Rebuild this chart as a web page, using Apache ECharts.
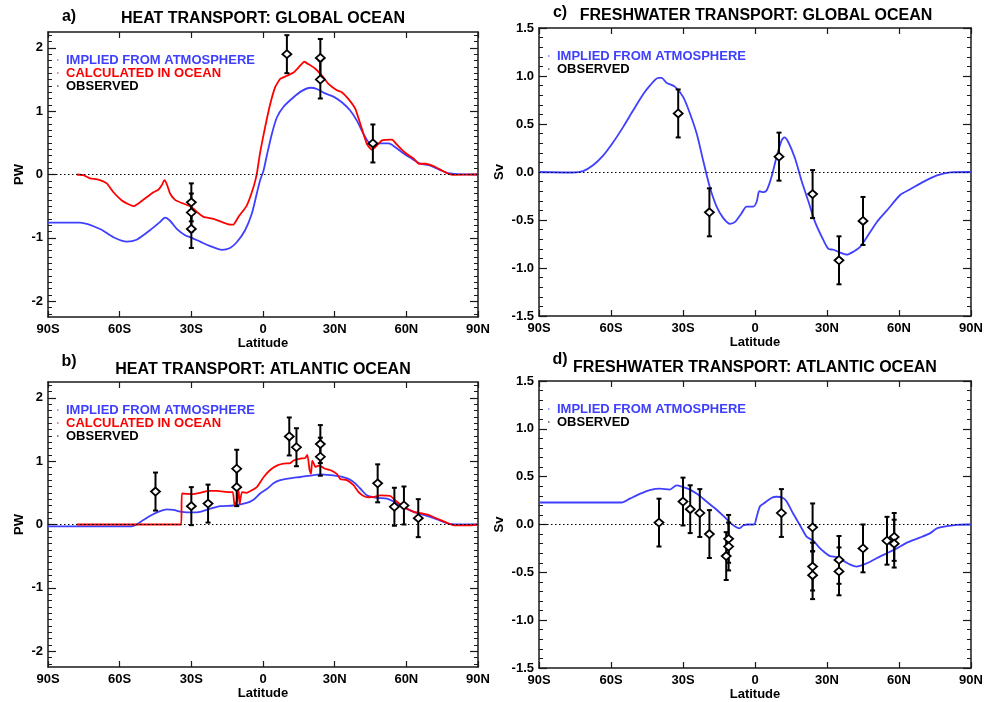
<!DOCTYPE html>
<html><head><meta charset="utf-8">
<script src="https://cdn.jsdelivr.net/npm/echarts@6/dist/echarts.min.js"></script>
<style>html,body{margin:0;padding:0;background:#fff}#c{width:984px;height:702px}</style>
</head><body><div id="c"></div>
<script>
// ---------- tick labels ----------
const latTicks = [-90, -60, -30, 0, 30, 60, 90];
const latLabels = ['90S', '60S', '30S', '0', '30N', '60N', '90N'];
const heatTicks = [-2, -1, 0, 1, 2];
const fwTicks = [-1.5, -1.0, -0.5, 0.0, 0.5, 1.0, 1.5];

// ---------- a) heat transport global ----------
const aBlueLat = [-90,-76.6,-68.2,-62.6,-57,-52.9,-47.3,-43.1,-41,-38.9,-36.1,-32.6,-29.8,-26.3,-22.1,-17.2,-13.8,-11,-7.5,-4.7,-2.6,-1.2,0.2,1.6,3.7,5.8,8.6,12.8,16.3,19.8,22.6,26,29.5,33,36.5,39.3,42.1,44.2,46.3,49.1,52.6,55.4,58.9,63.1,65.9,70,74.2,77.7,81.3,90];
const aBlueVal = [-0.76,-0.76,-0.86,-0.99,-1.06,-1.03,-0.88,-0.75,-0.68,-0.73,-0.86,-0.96,-1.00,-1.06,-1.13,-1.19,-1.16,-1.07,-0.88,-0.62,-0.30,-0.09,0.06,0.30,0.64,0.90,1.07,1.22,1.32,1.37,1.35,1.28,1.23,1.14,1.01,0.85,0.64,0.51,0.48,0.49,0.49,0.43,0.33,0.23,0.17,0.14,0.07,0.02,0.005,0];
const aRedLat = [-78,-75.2,-72.4,-68.9,-65.4,-62.6,-59.1,-56.3,-54.2,-51.5,-48.7,-45.9,-43.8,-42.4,-41.3,-40.3,-38.9,-36.8,-34.0,-31.2,-29.1,-27.7,-24.9,-20.7,-17.2,-13.8,-12.4,-10.3,-6.8,-4.0,-2.6,-1.2,0.9,3.0,5.1,7.2,10,12.8,14.9,17.3,19.1,21.9,24.7,27.4,30.9,33.0,35.8,38.6,41.4,43.5,45.6,47.7,49.8,54.0,56.1,59.6,63.1,65.2,68,71.5,75,77.7,79.8,90];
const aRedVal = [0,-0.01,-0.06,-0.08,-0.14,-0.28,-0.41,-0.47,-0.50,-0.44,-0.36,-0.28,-0.24,-0.17,-0.09,-0.15,-0.30,-0.40,-0.45,-0.49,-0.54,-0.59,-0.67,-0.70,-0.75,-0.79,-0.79,-0.67,-0.49,-0.20,0.01,0.35,0.75,1.11,1.38,1.51,1.56,1.61,1.69,1.78,1.74,1.67,1.56,1.43,1.33,1.30,1.19,1.04,0.72,0.48,0.39,0.46,0.54,0.55,0.47,0.34,0.25,0.17,0.17,0.13,0.06,0.01,-0.005,0];
const aObsLat = [-30,-30,-30,10,24,24,46];
const aObsVal = [-0.44,-0.60,-0.86,1.90,1.84,1.50,0.49];
const aObsErr = 0.3;

// ---------- b) heat transport atlantic ----------
const bBlueLat = [-90,-55,-52.9,-50.1,-46.6,-43.1,-40.3,-37.5,-34.0,-29.8,-26.3,-22.1,-17.9,-12.4,-6.8,-4.0,-1.2,1.6,4.4,7.2,11.4,15.6,21.2,24.0,28.1,32.3,35.8,38.6,41.4,43.5,47.7,51.9,55.4,58.9,63.1,66.6,70.0,74.2,77.7,82.6,90];
const bBlueVal = [-0.03,-0.03,0,0.07,0.15,0.21,0.24,0.23,0.20,0.19,0.20,0.25,0.29,0.30,0.34,0.39,0.49,0.56,0.65,0.70,0.73,0.75,0.78,0.79,0.78,0.76,0.72,0.65,0.54,0.46,0.42,0.41,0.35,0.27,0.20,0.16,0.12,0.06,0.015,0,0];
const bRedLat = [-78,-34.3,-33.9,-29.8,-26.3,-22.8,-19.3,-13.8,-12.6,-11.9,-10.9,-10.2,-9.8,-8.8,-6.8,-4.7,-2.6,0.3,3.0,5.8,8.6,11.4,12.8,15.6,17.7,18.6,19.5,20.1,20.6,21.2,21.9,23.3,24.7,26.0,28.1,30.9,32.3,35.1,37.9,40.0,42.1,44.2,47.0,49.1,53.3,55.4,58.9,63.1,65.9,69.4,73.6,77.7,80.5,85.4,90];
const bRedVal = [0,0,0.49,0.48,0.50,0.53,0.53,0.51,0.51,0.30,0.38,0.54,0.32,0.51,0.50,0.54,0.59,0.75,0.86,0.93,0.96,0.97,1.01,1.04,1.05,1.10,0.86,0.80,1.01,0.97,0.91,0.93,0.91,0.88,0.86,0.80,0.72,0.70,0.62,0.51,0.45,0.43,0.44,0.46,0.45,0.38,0.28,0.20,0.18,0.15,0.08,0.015,-0.015,-0.015,0];
const bObsLat = [-45,-30,-23,-11,-11,11,14,24,24,48,55,59,65];
const bObsVal = [0.52,0.29,0.33,0.88,0.59,1.39,1.22,1.27,1.07,0.65,0.28,0.30,0.10];
const bObsErr = 0.3;

// ---------- c) freshwater transport global ----------
const cBlueLat = [-90,-75.8,-71.6,-67.5,-63.3,-59.1,-54.9,-50.8,-46.6,-43.8,-40.3,-38.9,-36.9,-33.4,-29.9,-27.1,-24.3,-21.6,-18.8,-16.0,-13.2,-10.4,-8.3,-5.6,-3.5,-0.7,0.7,1.8,3.5,4.9,6.9,9.0,11.1,12.2,13.9,16.7,19.5,22.3,25.0,28.5,30.6,32.7,35.5,38.3,41.0,43.8,46.6,50.8,55.0,60.5,64.7,70.3,75.8,81.4,90];
const cBlueVal = [0,-0.005,0.01,0.07,0.17,0.31,0.47,0.64,0.81,0.90,0.98,0.98,0.93,0.89,0.78,0.61,0.40,0.12,-0.16,-0.36,-0.48,-0.54,-0.52,-0.43,-0.36,-0.36,-0.31,-0.20,-0.21,-0.19,-0.05,0.16,0.33,0.36,0.31,0.14,-0.10,-0.31,-0.52,-0.71,-0.80,-0.81,-0.84,-0.86,-0.83,-0.78,-0.68,-0.52,-0.40,-0.24,-0.18,-0.10,-0.035,-0.003,0];
const cObsLat = [-32,-19,10,24,35,45];
const cObsVal = [0.61,-0.42,0.16,-0.23,-0.92,-0.51];
const cObsErr = 0.25;

// ---------- d) freshwater transport atlantic ----------
const dBlueLat = [-90,-55.6,-52.2,-48.0,-43.8,-39.6,-35.5,-32.7,-29.9,-27.1,-23.6,-20.2,-16.7,-13.2,-10.4,-8.3,-6.5,-4.9,-2.8,-0.4,0.7,2.1,4.2,7.0,9.0,11.5,13.2,16.0,18.8,21.6,24.3,26.4,28.5,31.3,34.1,36.9,39.7,42.4,45.2,48.0,50.8,55.0,59.1,63.3,68.9,73.0,75.8,80.0,84.1,90];
const dBlueVal = [0.23,0.23,0.27,0.32,0.36,0.375,0.365,0.41,0.39,0.365,0.31,0.24,0.17,0.09,0.02,-0.02,-0.04,-0.01,0,0,0.08,0.19,0.23,0.28,0.29,0.28,0.24,0.11,-0.01,-0.13,-0.17,-0.23,-0.28,-0.33,-0.34,-0.38,-0.42,-0.44,-0.42,-0.39,-0.35,-0.30,-0.25,-0.19,-0.135,-0.09,-0.04,-0.017,-0.003,0];
const dObsLat = [-40,-30,-27,-23,-19,-12,-11,-11,11,24,24,24,35,35,45,55,58,58];
const dObsVal = [0.02,0.24,0.16,0.12,-0.10,-0.33,-0.15,-0.23,0.12,-0.03,-0.44,-0.53,-0.37,-0.49,-0.25,-0.17,-0.13,-0.20];
const dObsErr = 0.25;

// ---------- styling ----------
const FONT = '"Liberation Sans", Arial, Helvetica, sans-serif';
const BLUE = '#3f3fff';
const RED = '#ff0000';
const FRAME = '#1a1a1a';

const panels = [
  {grid:{left:48, top:32, width:430, height:285}, min:-2.25, max:2.25, ticks:heatTicks, fmt:v=>String(v), yname:'PW', ygap:22,
   blue:[aBlueLat,aBlueVal], red:[aRedLat,aRedVal], obs:[aObsLat,aObsVal,aObsErr]},
  {grid:{left:48, top:382, width:430, height:285}, min:-2.25, max:2.25, ticks:heatTicks, fmt:v=>String(v), yname:'PW', ygap:22,
   blue:[bBlueLat,bBlueVal], red:[bRedLat,bRedVal], obs:[bObsLat,bObsVal,bObsErr]},
  {grid:{left:539, top:28, width:432, height:288}, min:-1.5, max:1.5, ticks:fwTicks, fmt:v=>v.toFixed(1), yname:'Sv', ygap:33,
   blue:[cBlueLat,cBlueVal], red:null, obs:[cObsLat,cObsVal,cObsErr]},
  {grid:{left:539, top:381, width:432, height:287}, min:-1.5, max:1.5, ticks:fwTicks, fmt:v=>v.toFixed(1), yname:'Sv', ygap:33,
   blue:[dBlueLat,dBlueVal], red:null, obs:[dObsLat,dObsVal,dObsErr]}
];

function minorValues(min, max) {
  const out = [];
  for (let k = Math.ceil(min * 10); k <= Math.floor(max * 10); k++) out.push(k / 10);
  return out;
}

const grids = [], xAxes = [], yAxes = [], series = [];
panels.forEach((p, gi) => {
  grids.push(Object.assign({containLabel:false, outerBoundsMode:'none'}, p.grid));
  const xb = xAxes.length;
  xAxes.push({
    type:'value', gridIndex:gi, position:'bottom', min:-90, max:90, interval:30,
    axisLine:{show:true, onZero:false, lineStyle:{color:FRAME, width:1.5}},
    axisTick:{show:true, inside:true, length:6, lineStyle:{color:FRAME, width:1.2}},
    axisLabel:{show:true, margin:6, color:'#000', fontFamily:FONT, fontWeight:'bold', fontSize:13,
      formatter:v => latLabels[latTicks.indexOf(v)]},
    splitLine:{show:false},
    name:'Latitude', nameLocation:'middle', nameGap:19,
    nameTextStyle:{color:'#000', fontFamily:FONT, fontWeight:'bold', fontSize:13}
  });
  xAxes.push({
    type:'value', gridIndex:gi, position:'top', min:-90, max:90, interval:30,
    axisLine:{show:true, onZero:false, lineStyle:{color:FRAME, width:1.5}},
    axisTick:{show:true, inside:true, length:6, lineStyle:{color:FRAME, width:1.2}},
    axisLabel:{show:false}, splitLine:{show:false}
  });
  const yl = yAxes.length;
  const common = {type:'value', gridIndex:gi, min:p.min, max:p.max, splitLine:{show:false}};
  yAxes.push(Object.assign({}, common, {
    position:'left',
    axisLine:{show:true, onZero:false, lineStyle:{color:FRAME, width:1.5}},
    axisTick:{show:true, inside:true, length:8, customValues:p.ticks, lineStyle:{color:FRAME, width:1.2}},
    axisLabel:{show:true, margin:5, customValues:p.ticks, formatter:p.fmt, color:'#000', fontFamily:FONT, fontWeight:'bold', fontSize:13},
    name:p.yname, nameLocation:'middle', nameGap:p.ygap, nameRotate:90,
    nameTextStyle:{color:'#000', fontFamily:FONT, fontWeight:'bold', fontSize:13}
  }));
  yAxes.push(Object.assign({}, common, {
    position:'left',
    axisLine:{show:false, onZero:false},
    axisTick:{show:true, inside:true, length:4, customValues:minorValues(p.min, p.max), lineStyle:{color:FRAME, width:1}},
    axisLabel:{show:false}
  }));
  yAxes.push(Object.assign({}, common, {
    position:'right',
    axisLine:{show:true, onZero:false, lineStyle:{color:FRAME, width:1.5}},
    axisTick:{show:true, inside:true, length:8, customValues:p.ticks, lineStyle:{color:FRAME, width:1.2}},
    axisLabel:{show:false}
  }));
  yAxes.push(Object.assign({}, common, {
    position:'right',
    axisLine:{show:false, onZero:false},
    axisTick:{show:true, inside:true, length:4, customValues:minorValues(p.min, p.max), lineStyle:{color:FRAME, width:1}},
    axisLabel:{show:false}
  }));

  const zip = (a, b) => a.map((x, i) => [x, b[i]]);
  series.push({
    type:'line', xAxisIndex:xb, yAxisIndex:yl, data:zip(p.blue[0], p.blue[1]),
    showSymbol:false, smooth:0.25, lineStyle:{color:BLUE, width:1.8}, z:3, silent:true,
    markLine:{silent:true, symbol:'none', label:{show:false}, data:[{yAxis:0}],
      lineStyle:{color:'#000', width:1, type:[1.5, 2.5]}}
  });
  if (p.red) {
    series.push({
      type:'line', xAxisIndex:xb, yAxisIndex:yl, data:zip(p.red[0], p.red[1]),
      showSymbol:false, smooth:0.15, lineStyle:{color:RED, width:1.8}, z:4, silent:true
    });
  }
  const [oLat, oVal, oErr] = p.obs;
  series.push({
    type:'custom', xAxisIndex:xb, yAxisIndex:yl, z:5, silent:true,
    data: oLat.map((x, i) => [x, oVal[i] - oErr, oVal[i] + oErr]),
    encode:{x:0, y:[1, 2]},
    renderItem: function (params, api) {
      const lo = api.coord([api.value(0), api.value(1)]);
      const hi = api.coord([api.value(0), api.value(2)]);
      const cw = 2.5;
      const st = {stroke:'#000', lineWidth:2};
      return {type:'group', children:[
        {type:'line', shape:{x1:lo[0], y1:lo[1], x2:hi[0], y2:hi[1]}, style:st},
        {type:'line', shape:{x1:lo[0]-cw, y1:lo[1], x2:lo[0]+cw, y2:lo[1]}, style:st},
        {type:'line', shape:{x1:hi[0]-cw, y1:hi[1], x2:hi[0]+cw, y2:hi[1]}, style:st}
      ]};
    }
  });
  series.push({
    type:'scatter', xAxisIndex:xb, yAxisIndex:yl, z:6, silent:true,
    data: zip(oLat, oVal), symbol:'diamond', symbolSize:[9, 8],
    itemStyle:{color:'#fff', opacity:1, borderColor:'#000', borderWidth:1.8}
  });
});

function txt(x, y, s, opts) {
  return Object.assign({type:'text', x:x, y:y, silent:true,
    style:Object.assign({text:s, fill:'#000', font:'bold 13px ' + FONT, align:'left', verticalAlign:'middle'}, opts || {})});
}
function dash(x, y, c) {
  return {type:'line', silent:true, shape:{x1:x, y1:y, x2:x + 1.5, y2:y}, style:{stroke:c, lineWidth:1}};
}
const titleFont = 'bold 16px ' + FONT;
const graphics = [
  txt(69, 17, 'a)', {font:titleFont, align:'center'}),
  txt(263, 19, 'HEAT TRANSPORT: GLOBAL OCEAN', {font:titleFont, align:'center'}),
  txt(69, 362, 'b)', {font:titleFont, align:'center'}),
  txt(263, 370, 'HEAT TRANSPORT: ATLANTIC OCEAN', {font:titleFont, align:'center'}),
  txt(560, 13, 'c)', {font:titleFont, align:'center'}),
  txt(756, 16, 'FRESHWATER TRANSPORT: GLOBAL OCEAN', {font:titleFont, align:'center'}),
  txt(560, 360, 'd)', {font:titleFont, align:'center'}),
  txt(755, 368, 'FRESHWATER TRANSPORT: ATLANTIC OCEAN', {font:titleFont, align:'center'}),
  // legends
  dash(57, 60, BLUE), txt(66, 60, 'IMPLIED FROM ATMOSPHERE', {fill:BLUE}),
  dash(57, 73, RED), txt(66, 73, 'CALCULATED IN OCEAN', {fill:RED}),
  dash(57, 86, '#000'), txt(66, 86, 'OBSERVED'),
  dash(57, 410, BLUE), txt(66, 410, 'IMPLIED FROM ATMOSPHERE', {fill:BLUE}),
  dash(57, 423, RED), txt(66, 423, 'CALCULATED IN OCEAN', {fill:RED}),
  dash(57, 436, '#000'), txt(66, 436, 'OBSERVED'),
  dash(548, 56, BLUE), txt(557, 56, 'IMPLIED FROM ATMOSPHERE', {fill:BLUE}),
  dash(548, 69, '#000'), txt(557, 69, 'OBSERVED'),
  dash(548, 409, BLUE), txt(557, 409, 'IMPLIED FROM ATMOSPHERE', {fill:BLUE}),
  dash(548, 422, '#000'), txt(557, 422, 'OBSERVED')
];

const chart = echarts.init(document.getElementById('c'), null, {renderer:'canvas'});
chart.setOption({
  backgroundColor:'#fff',
  animation:false,
  grid:grids, xAxis:xAxes, yAxis:yAxes, series:series,
  graphic:graphics
});
</script>
</body></html>
